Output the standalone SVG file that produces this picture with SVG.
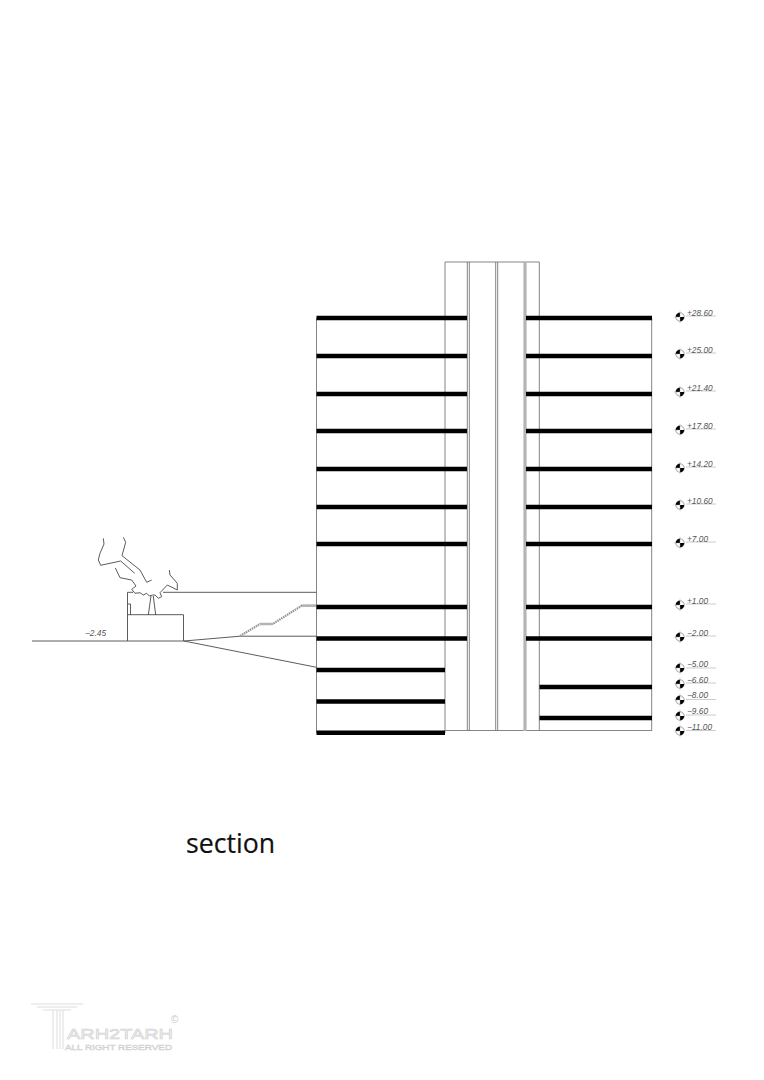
<svg xmlns="http://www.w3.org/2000/svg" width="764" height="1080" viewBox="0 0 764 1080">
<style>
.l{fill:none;stroke:#4a4a4a;stroke-width:.9}
.c{fill:none;stroke:#777;stroke-width:.9}
.g{fill:none;stroke:#b5b5b5;stroke-width:3.2}
.b{stroke:#000;stroke-width:4.5;fill:none}
.lv{font:italic 8.3px "Liberation Sans",Arial,sans-serif;fill:#555}
.ul{stroke:#aaa;stroke-width:.6}
.logo{fill:none;stroke:#ddd;stroke-width:1}
</style>
<defs>
<g id="mark">
<circle r="4.2" fill="#fff" stroke="#444" stroke-width=".5"/>
<path d="M0 0V-4.2A4.2 4.2 0 0 0-4.2 0ZM0 0V4.2A4.2 4.2 0 0 0 4.2 0Z" fill="#000"/>
<path d="M0-6.5V6.5M-6.5 0H0" stroke="#aaa" stroke-width=".4"/>
</g>
</defs>
<rect width="764" height="1080" fill="#fff"/>
<g id="building">
<path class="c" d="M316.5 318V733M651.7 318V731M445 733V262H539.3V731M467.3 262V731M469.3 262V731M495.7 262V731M497.7 262V731M445 730.5H651.7"/>
<path class="g" d="M525 262V731"/>
<path class="b" d="M316.5 318H467M316.5 356H467M316.5 394H467M316.5 431H467M316.5 469H467M316.5 507H467M316.5 544H467M316.5 607H467M316.5 638.5H467M316.5 670H445M316.5 701.5H445M316.5 732.8H445"/>
<path class="b" d="M526 318H652M526 356H652M526 394H652M526 431H652M526 469H652M526 507H652M526 544H652M526 607H652M526 638.5H652M539.5 687H652M539.5 718H652"/>
</g>
<g id="site">
<path class="l" d="M32 641H184M127.5 641V592.3H133M163 592.3H316.5M127.5 614.7H183.5V641M128 604H130.5V614.7M184 641L240 636.2H316.5M184 641L316.5 667.3"/>
<path d="M240 636L260 624H272.7L301.7 605.7H316" fill="none" stroke="#999" stroke-width="2.2" stroke-dasharray="1.6 .7"/>
<path d="M260 624H272.7M301.7 605.7H316" fill="none" stroke="#b5b5b5" stroke-width="2.4"/>
<text x="85" y="636" class="lv">−2.45</text>
</g>
<g id="tree">
<path class="l" d="M103.3 538.3L104 544L100 553.3L98.3 560L100.7 565.3L120.7 561L134.7 573.3"/>
<path class="l" d="M123.3 537.3L125.7 542.3L122 555.7L140 570L146.7 582.3L151.7 580"/>
<path class="l" d="M115.3 568L120 577.7L131.7 580L136 586L131.7 589.3L135 593.3L140 592.7L143.3 595L146.7 593.3L149.3 596L152.7 595L155 595L158.3 598.3L161.7 596.7L160 592.7L167.3 585L177.3 590L177.3 583.3L170 575L169.3 570"/>
<path class="l" d="M148.3 615L151 596M155.7 615L153.3 596"/>
</g>
<g id="levels">
<use href="#mark" x="680" y="317"/><path class="ul" d="M686 316H716"/><text class="lv" x="687" y="315.700">+28.60</text>
<use href="#mark" x="680" y="354"/><path class="ul" d="M686 353H716"/><text class="lv" x="687" y="352.700">+25.00</text>
<use href="#mark" x="680" y="392"/><path class="ul" d="M686 391H716"/><text class="lv" x="687" y="390.700">+21.40</text>
<use href="#mark" x="680" y="430"/><path class="ul" d="M686 429H716"/><text class="lv" x="687" y="428.700">+17.80</text>
<use href="#mark" x="680" y="468"/><path class="ul" d="M686 467H716"/><text class="lv" x="687" y="466.700">+14.20</text>
<use href="#mark" x="680" y="505"/><path class="ul" d="M686 504H716"/><text class="lv" x="687" y="503.700">+10.60</text>
<use href="#mark" x="680" y="543"/><path class="ul" d="M686 542H716"/><text class="lv" x="687" y="541.700">+7.00</text>
<use href="#mark" x="680" y="605"/><path class="ul" d="M686 604H716"/><text class="lv" x="687" y="603.700">+1.00</text>
<use href="#mark" x="680" y="637"/><path class="ul" d="M686 636H716"/><text class="lv" x="687" y="635.700">−2.00</text>
<use href="#mark" x="680" y="668"/><path class="ul" d="M686 668H716"/><text class="lv" x="687" y="667">−5.00</text>
<use href="#mark" x="680" y="684"/><path class="ul" d="M686 683H716"/><text class="lv" x="687" y="682.500">−6.60</text>
<use href="#mark" x="680" y="700"/><path class="ul" d="M686 699.500H716"/><text class="lv" x="687" y="698">−8.00</text>
<use href="#mark" x="680" y="716"/><path class="ul" d="M686 715H716"/><text class="lv" x="687" y="713.500">−9.60</text>
<use href="#mark" x="680" y="731"/><path class="ul" d="M686 730.500H716"/><text class="lv" x="687" y="729.500">−11.00</text>
</g>
<text id="title" x="186" y="852.500" font-family="'Open Sans',sans-serif" font-size="26.700" fill="#111" stroke="#111" stroke-width=".2">section</text>
<g id="logo">
<path class="logo" d="M31 1004H83M37 1007H77M43 1010H71M53 1010V1049M57 1010V1049M60 1010V1049M63 1010V1049"/>
<text x="67" y="1039" font-family="'Liberation Sans',sans-serif" font-size="14.500" textLength="106" lengthAdjust="spacingAndGlyphs" fill="#f6f6f6" stroke="#d0d0d0" stroke-width=".6">ARH2TARH</text>
<text x="65" y="1049.500" font-family="'Liberation Sans',sans-serif" font-size="8" textLength="107" lengthAdjust="spacingAndGlyphs" fill="#f6f6f6" stroke="#d0d0d0" stroke-width=".5">ALL RIGHT RESERVED</text>
<text x="171" y="1023" font-family="'Liberation Sans',sans-serif" font-size="10" fill="#c8c8c8">©</text>
</g>
</svg>
